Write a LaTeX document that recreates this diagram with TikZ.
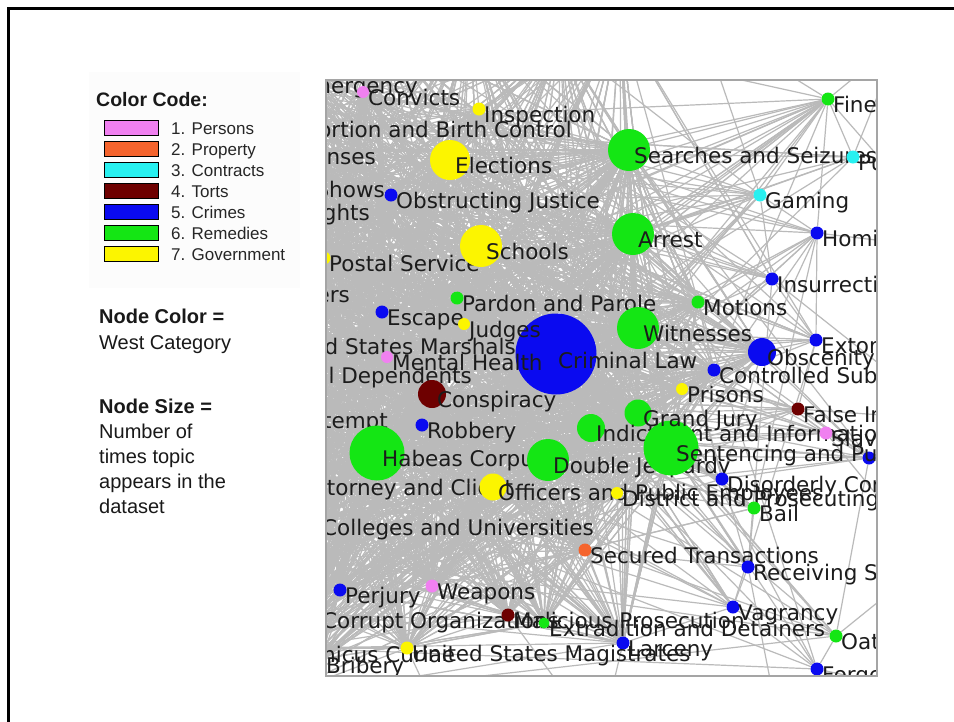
\documentclass[tikz,border=0pt]{standalone}
\usepackage{fontspec}
\setmainfont{Liberation Sans}
\newfontfamily\labelfamily{DejaVu Sans}

\pgfdeclarelayer{background}
\pgfsetlayers{background,main}

% West category colours
\definecolor{cPers}{RGB}{240,128,240}
\definecolor{cProp}{RGB}{245,100,45}
\definecolor{cCont}{RGB}{40,240,240}
\definecolor{cTort}{RGB}{110,0,0}
\definecolor{cCrim}{RGB}{10,10,240}
\definecolor{cRem}{RGB}{20,230,20}
\definecolor{cGov}{RGB}{252,245,0}
\definecolor{edgegray}{RGB}{186,186,186}
\definecolor{labelink}{RGB}{28,28,28}
\definecolor{panelframe}{RGB}{165,165,165}
\definecolor{legendbg}{RGB}{252,252,252}

\tikzset{
  topic/.style={circle, inner sep=0pt, minimum size=#1, draw=none},
  toplabel/.style={anchor=base west, inner sep=0pt, text=labelink,
    font=\labelfamily\fontsize{21.5}{21.5}\selectfont},
  cutlabel/.style={toplabel, anchor=base east},
  link/.style={draw=edgegray, line width=1.2pt},
  swatch/.style={draw=black, line width=0.8pt, minimum width=54pt,
    minimum height=15pt, inner sep=0pt},
  keytext/.style={anchor=base west, inner sep=0pt,
    font=\fontsize{17}{17}\selectfont, text=black!85},
  notehead/.style={anchor=base west, inner sep=0pt,
    font=\bfseries\fontsize{20}{20}\selectfont, text=black!90},
  notetext/.style={anchor=base west, inner sep=0pt,
    font=\fontsize{20}{20}\selectfont, text=black!90},
}

% \topicnode{name}{x}{y}{diameter}{colour}{label}  (y measured downwards)
\newcommand\topicnode[6]{%
  \node[topic=#4pt, fill=#5] (#1) at (#2,-#3) {};
  \node[toplabel] (#1-txt) at (#2+5,-#3-13.5) {#6};}

% topics that get most of the random links (repeats weight them)
\def\hublist{crim,crim,crim,crim,crim,crim,habeas,habeas,habeas,habeas,
  sentencing,sentencing,sentencing,sentencing,searches,searches,searches,
  arrest,arrest,arrest,witnesses,witnesses,witnesses,elections,elections,
  schools,schools,double,double,conspiracy,conspiracy,grandjury,grandjury,
  indictment,indictment,officers,officers,obscenity,convicts,inspection,
  obstructing,postal,pardon,escape,judges,mental,robbery,prisons,controlled,
  motions,district,secured,perjury,weapons,malicious,extradition,usmag,
  larceny,emergency,abortion,licenses,theaters,civil,prisoners,marshals,
  dependents,contempt,attorney,colleges,corrupt,amicus,bribery,
  g1,g2,g3,g4,g5,g6,g7,g8,g9,g10,g11,g12,g13,g14,g15,g16,
  g17,g18,g19,g20,g21,g22,g23,g24}

\begin{document}
\begin{tikzpicture}[x=1pt,y=1pt]
\useasboundingbox (0,0) rectangle (954,-721);
\begin{pgfonlayer}{background}
  \fill[white] (0,0) rectangle (954,-721);
\end{pgfonlayer}

% slide frame
\draw[line width=2.6pt] (8.5,-730) -- (8.5,-8.5) -- (965,-8.5);

% ---------------- legend ----------------
\fill[legendbg] (89,-72) rectangle (300,-288);
\node[anchor=base west, inner sep=0pt, font=\bfseries\fontsize{19.5}{19.5}\selectfont,
      text=black!90] (keyhead) at (96,-106) {Color Code:};
\foreach [count=\r] \c/\t in {cPers/1. Persons, cProp/2. Property,
    cCont/3. Contracts, cTort/4. Torts, cCrim/5. Crimes,
    cRem/6. Remedies, cGov/7. Government}{
  \node[swatch, fill=\c] (sw\r) at (131,-107-21*\r) {};
  \node[keytext] (kt\r) at (171,-113-21*\r) {\t};
}
\node[notehead] (colhead) at (99,-323) {Node Color =};
\node[notetext] (colbody) at (99,-349) {West Category};
\node[notehead] (sizehead) at (99,-413) {Node Size =};
\node[notetext] (size1) at (99,-438) {Number of};
\node[notetext] (size2) at (99,-463) {times topic};
\node[notetext] (size3) at (99,-488) {appears in the};
\node[notetext] (size4) at (99,-513) {dataset};

% ---------------- network panel ----------------
\begin{scope}
\clip (326,-80) rectangle (877,-676);
\coordinate (emergency) at (294,-79);
\node[cutlabel] (emergency-txt) at (418,-93) {Emergency};
\topicnode{convicts}{363}{92}{12}{cPers}{Convicts}
\topicnode{inspection}{479}{109}{13}{cGov}{Inspection}
\coordinate (abortion) at (285,-123);
\node[cutlabel] (abortion-txt) at (572,-137) {Abortion and Birth Control};
\coordinate (licenses) at (280,-150);
\node[cutlabel] (licenses-txt) at (376,-164) {Licenses};
\topicnode{elections}{450}{160}{40}{cGov}{Elections}
\coordinate (theaters) at (170,-183);
\node[cutlabel] (theaters-txt) at (385,-197) {Theaters and Shows};
\topicnode{obstructing}{391}{195}{13}{cCrim}{Obstructing Justice}
\coordinate (civil) at (240,-206);
\node[cutlabel] (civil-txt) at (370,-220) {Civil Rights};
\topicnode{searches}{629}{150}{42}{cRem}{Searches and Seizures}
\topicnode{pubcontracts}{853}{157}{13}{cCont}{Public Contracts}
\topicnode{fines}{828}{99}{13}{cRem}{Fines}
\topicnode{gaming}{760}{195}{13}{cCont}{Gaming}
\topicnode{arrest}{633}{234}{42}{cRem}{Arrest}
\topicnode{homicide}{817}{233}{13}{cCrim}{Homicide}
\topicnode{postal}{324}{258}{13}{cGov}{Postal Service}
\topicnode{schools}{481}{246}{42}{cGov}{Schools}
\topicnode{insurrection}{772}{279}{13}{cCrim}{Insurrection}
\coordinate (prisoners) at (240,-288);
\node[cutlabel] (prisoners-txt) at (350,-302) {Prisoners};
\topicnode{pardon}{457}{298}{13}{cRem}{Pardon and Parole}
\topicnode{motions}{698}{302}{13}{cRem}{Motions}
\topicnode{escape}{382}{312}{13}{cCrim}{Escape}
\node[topic=81pt, fill=cCrim] (crim) at (556,-354) {};
\node[toplabel] (crim-txt) at (558,-368) {Criminal Law};
\topicnode{judges}{464}{324}{12}{cGov}{Judges}
\coordinate (marshals) at (268,-340);
\node[cutlabel] (marshals-txt) at (516,-354) {United States Marshals};
\topicnode{mental}{387}{357}{12}{cPers}{Mental Health}
\topicnode{witnesses}{638}{328}{42}{cRem}{Witnesses}
\topicnode{extortion}{816}{340}{13}{cCrim}{Extortion}
\topicnode{obscenity}{762}{352}{28}{cCrim}{Obscenity}
\topicnode{controlled}{714}{370}{13}{cCrim}{Controlled Substances}
\coordinate (dependents) at (200,-369);
\node[cutlabel] (dependents-txt) at (472,-383) {Social Dependents};
\topicnode{prisons}{682}{389}{12}{cGov}{Prisons}
\topicnode{conspiracy}{432}{394}{28}{cTort}{Conspiracy}
\topicnode{falseimp}{798}{409}{13}{cTort}{False Imprisonment}
\node[topic=27pt, fill=cRem] (grandjury) at (638,-413) {};
\coordinate (contempt) at (270,-414);
\node[cutlabel] (contempt-txt) at (388,-428) {Contempt};
\topicnode{robbery}{422}{425}{13}{cCrim}{Robbery}
\topicnode{indictment}{591}{428}{28}{cRem}{Indictment and Information}
\topicnode{slaves}{826}{433}{13}{cPers}{Slaves}
\topicnode{habeas}{377}{453}{55}{cRem}{Habeas Corpus}
\topicnode{double}{548}{460}{42}{cRem}{Double Jeopardy}
\node[topic=13pt, fill=cCrim] (rightblue) at (869,-458) {};
\topicnode{sentencing}{671}{448}{55}{cRem}{Sentencing and Punishment}
\node[toplabel] (grandjury-txt) at (643,-426.5) {Grand Jury};
\coordinate (attorney) at (299,-481);
\node[toplabel] (attorney-txt) at (304,-495) {Attorney and Client};
\topicnode{officers}{493}{487}{27}{cGov}{Officers and Public Employees}
\topicnode{disorderly}{722}{479}{13}{cCrim}{Disorderly Conduct}
\topicnode{district}{617}{493}{12}{cGov}{District and Prosecuting Attorneys}
\topicnode{bail}{754}{508}{13}{cRem}{Bail}
\coordinate (colleges) at (317,-521);
\node[toplabel] (colleges-txt) at (322,-535) {Colleges and Universities};
\topicnode{secured}{585}{550}{13}{cProp}{Secured Transactions}
\topicnode{receiving}{748}{567}{13}{cCrim}{Receiving Stolen Goods}
\topicnode{weapons}{432}{586}{13}{cPers}{Weapons}
\topicnode{perjury}{340}{590}{13}{cCrim}{Perjury}
\topicnode{vagrancy}{733}{607}{13}{cCrim}{Vagrancy}
\coordinate (corrupt) at (317,-614);
\node[toplabel] (corrupt-txt) at (322,-628) {Corrupt Organizations};
\topicnode{malicious}{508}{615}{13}{cTort}{Malicious Prosecution}
\topicnode{extradition}{544}{623}{11}{cRem}{Extradition and Detainers}
\topicnode{oaths}{836}{636}{13}{cRem}{Oaths}
\topicnode{larceny}{623}{643}{13}{cCrim}{Larceny}
\coordinate (amicus) at (295,-648);
\node[toplabel] (amicus-txt) at (300,-662) {Amicus Curiae};
\topicnode{usmag}{407}{648}{13}{cGov}{United States Magistrates}
\coordinate (bribery) at (321,-659);
\node[toplabel] (bribery-txt) at (326,-673) {Bribery};
\topicnode{forgery}{817}{669}{13}{cCrim}{Forgery}

% topics lying outside the visible window
\foreach [count=\i] \px/\py in {230/-100,300/-60,260/-250,310/-380,
    200/-330,290/-440,250/-560,310/-600,270/-700,380/-30,
    470/-20,560/-40,620/-20,200/-470,150/-200,300/-520,
    280/-90,310/-160,300/-230,315/-300,290/-350,305/-410,300/-470,320/-560}
  \coordinate (g\i) at (\px,\py);
\foreach [count=\i] \px/\py in {900/-40,960/-250,950/-420,930/-560,
    960/-700,700/-20,780/-730,600/-740,450/-740}
  \coordinate (q\i) at (\px,\py);
\end{scope}

% ---------------- links (behind the topics) ----------------
\begin{pgfonlayer}{background}
\begin{scope}
\clip (326,-80) rectangle (877,-676);
\foreach [count=\i] \n in \hublist {\coordinate (h\i) at (\n); \xdef\hubcount{\i}}
\pgfmathsetseed{4711}
\foreach \k in {1,...,3000}{
  \pgfmathtruncatemacro\ea{random(1,\hubcount)}
  \pgfmathtruncatemacro\eb{random(1,\hubcount)}
  \draw[link] (h\ea) -- (h\eb);
}
\foreach \s/\m in {fines/20,pubcontracts/8,gaming/14,homicide/11,
    insurrection/11,extortion/13,falseimp/11,slaves/10,rightblue/11,
    disorderly/10,bail/10,receiving/10,vagrancy/13,oaths/8,forgery/6,
    motions/6,obscenity/8,controlled/6}{
  \foreach \j in {1,...,\m}{
    \pgfmathtruncatemacro\ea{random(1,\hubcount)}
    \draw[link] (\s) -- (h\ea);
  }
}
\foreach \a/\b in {fines/pubcontracts,fines/gaming,fines/homicide,fines/q1,
    fines/q6,fines/q2,gaming/homicide,gaming/insurrection,homicide/extortion,
    insurrection/extortion,extortion/falseimp,falseimp/rightblue,
    slaves/rightblue,rightblue/disorderly,rightblue/oaths,bail/receiving,
    receiving/vagrancy,vagrancy/oaths,vagrancy/forgery,oaths/forgery,
    larceny/vagrancy,disorderly/bail,rightblue/q3,oaths/q4,forgery/q5,
    homicide/q2,insurrection/q3,pubcontracts/q1,falseimp/q3,receiving/q7,
    larceny/q8,usmag/q9,malicious/q8,slaves/q4,gaming/q6,insurrection/receiving,
    extortion/vagrancy,homicide/bail}
  \draw[link] (\a) -- (\b);
\end{scope}
\end{pgfonlayer}

\draw[panelframe, line width=1.4pt] (326,-80) rectangle (877,-676);
\end{tikzpicture}
\end{document}
